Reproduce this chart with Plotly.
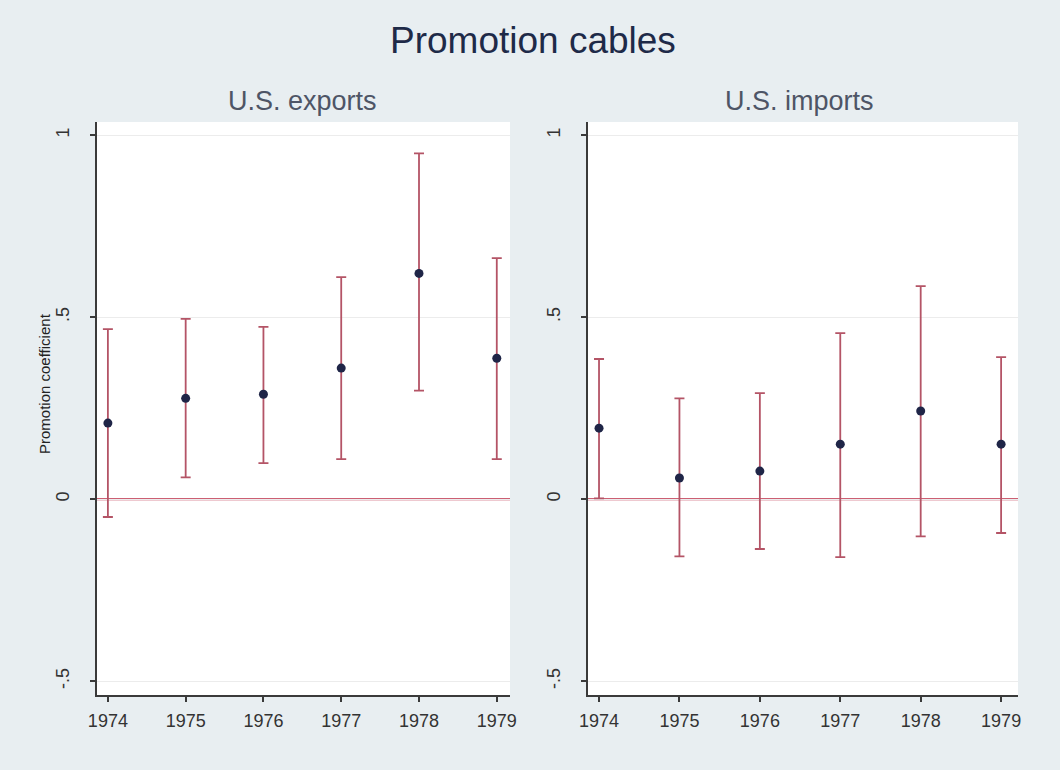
import plotly.graph_objects as go

years = [1974, 1975, 1976, 1977, 1978, 1979]

exp_coef = [0.209, 0.277, 0.288, 0.360, 0.620, 0.387]
exp_lo = [-0.049, 0.060, 0.099, 0.110, 0.298, 0.110]
exp_hi = [0.467, 0.495, 0.473, 0.610, 0.950, 0.662]

imp_coef = [0.195, 0.058, 0.077, 0.151, 0.242, 0.151]
imp_lo = [0.002, -0.157, -0.137, -0.159, -0.102, -0.093]
imp_hi = [0.385, 0.277, 0.291, 0.456, 0.585, 0.390]

ytick_vals = [-0.5, 0, 0.5, 1]
ytick_text = ["-.5", "0", ".5", "1"]

title_text = "Promotion cables"
panel_titles = ["U.S. exports", "U.S. imports"]
ytitle = "Promotion coefficient"

BG = "#e8eef1"
ERR = "#b45466"
PT = "#1f2547"
REF = "#bb2a45"
FONT = "Liberation Sans, Arial, sans-serif"

fig = go.Figure()

for i, (c, lo, hi) in enumerate([(exp_coef, exp_lo, exp_hi), (imp_coef, imp_lo, imp_hi)]):
    xa = "x" if i == 0 else "x2"
    ya = "y" if i == 0 else "y2"
    fig.add_shape(type="line", xref=f"{xa} domain", yref=ya, x0=0, x1=1, y0=0, y1=0,
                  line=dict(color=REF, width=2), layer="below")
    fig.add_trace(go.Scatter(
        x=years, y=c, mode="markers", xaxis=xa, yaxis=ya,
        marker=dict(color=PT, size=9),
        error_y=dict(type="data", symmetric=False,
                     array=[h - v for h, v in zip(hi, c)],
                     arrayminus=[v - l for v, l in zip(c, lo)],
                     color=ERR, thickness=1.8, width=5),
        showlegend=False, hoverinfo="skip"))

xcommon = dict(showline=True, linecolor="#3a3a3a", linewidth=1.5, ticks="outside",
               ticklen=5, tickcolor="#3a3a3a", tickwidth=1.5, showgrid=False, zeroline=False,
               tickvals=years, ticktext=[str(y) for y in years],
               tickfont=dict(family=FONT, size=18, color="#333333"),
               ticklabelstandoff=4, automargin=False)
ycommon = dict(showline=True, linecolor="#3a3a3a", linewidth=1.5, ticks="outside",
               ticklen=5, tickcolor="#3a3a3a", tickwidth=1.5, showgrid=True,
               gridcolor="#ececec", gridwidth=1, zeroline=False,
               tickvals=ytick_vals, ticktext=ytick_text, tickangle=-90,
               tickfont=dict(family=FONT, size=18, color="#333333"),
               range=[-0.538, 1.036], ticklabelstandoff=14, automargin=False)

fig.update_layout(
    width=1060, height=770,
    margin=dict(l=0, r=0, t=0, b=0),
    paper_bgcolor=BG, plot_bgcolor="white",
    xaxis=dict(xcommon, domain=[97/1060, 510/1060], range=[1973.86, 1979.17], anchor="y"),
    yaxis=dict(ycommon, domain=[1-695/770, 1-122/770], anchor="x"),
    xaxis2=dict(xcommon, domain=[588/1060, 1018/1060], range=[1973.863, 1979.21], anchor="y2"),
    yaxis2=dict(ycommon, domain=[1-695/770, 1-122/770], anchor="x2"),
)

fig.add_annotation(text=title_text, xref="paper", yref="paper", x=533/1060, y=1-41/770,
                   showarrow=False, font=dict(family=FONT, size=37, color="#1e2a48"),
                   xanchor="center", yanchor="middle")
fig.add_annotation(text=panel_titles[0], xref="paper", yref="paper", x=302/1060, y=1-101/770,
                   showarrow=False, font=dict(family=FONT, size=27, color="#4e5566"),
                   xanchor="center", yanchor="middle")
fig.add_annotation(text=panel_titles[1], xref="paper", yref="paper", x=799/1060, y=1-101/770,
                   showarrow=False, font=dict(family=FONT, size=27, color="#4e5566"),
                   xanchor="center", yanchor="middle")
fig.add_annotation(text=ytitle, xref="paper", yref="paper", x=45/1060, y=1-384/770,
                   showarrow=False, textangle=-90, font=dict(family=FONT, size=15, color="#222222"),
                   xanchor="center", yanchor="middle")

fig.write_html("out.html")
